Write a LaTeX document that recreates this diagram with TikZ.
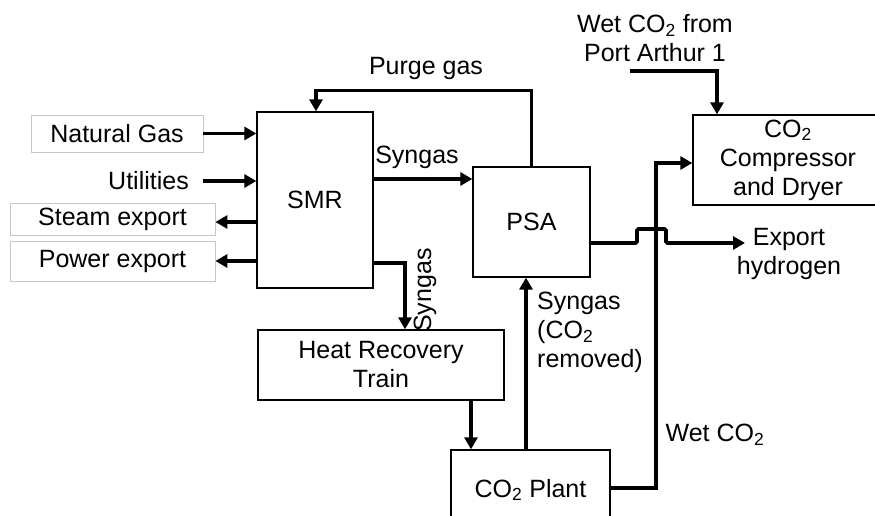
\documentclass[tikz,border=0pt]{standalone}
\usepackage{fontspec}
\setsansfont{Liberation Sans}
\usetikzlibrary{positioning,arrows.meta}

\begin{document}
\begin{tikzpicture}[
  x=1pt, y=-1pt,
  font=\sffamily\fontsize{25}{29}\selectfont,
  unit/.style={rectangle, draw=black, line width=1.3pt, inner sep=0pt, align=center},
  tag/.style={rectangle, draw=black!22, line width=0.8pt, inner sep=0pt},
  txt/.style={inner sep=0pt, align=center},
  flow/.style={-{Triangle[length=12pt,width=13pt]}, line width=3.6pt},
  pipe/.style={line width=3.6pt}
]
\useasboundingbox (0,0) rectangle (875,516);
\clip (0,0) rectangle (875,516);

\node[tag, minimum width=172pt, minimum height=37pt] (ng) at (117,133.5) {Natural Gas};
\node[txt, anchor=east, inner xsep=14pt] (util) at (203,181) {Utilities};
\node[tag, minimum width=205pt, minimum height=32pt] (steam) at (112.5,219) {Steam export};
\node[tag, minimum width=205pt, minimum height=40pt] (power) at (112.5,261) {Power export};

\node[unit, minimum width=116pt, minimum height=176pt] (smr) at (315,200) {SMR};
\node[unit, minimum width=117pt, minimum height=110pt] (psa) at (531.5,222) {PSA};
\node[unit, minimum width=246pt, minimum height=70pt] (hrt) at (381,365) {Heat Recovery\\Train};
\node[unit, minimum width=159pt, minimum height=80pt] (co2p) at (530.5,490) {CO\textsubscript{2} Plant};
\node[unit, minimum width=190pt, minimum height=90pt] (comp) at (788,160) {CO\textsubscript{2}\\Compressor\\and Dryer};

\node[txt] (purge) at (426,68) {Purge gas};
\node[txt] (sg1) at (417,157) {Syngas};
\node[txt, rotate=90] (sg2) at (425,290) {Syngas};
\node[txt, anchor=north west, align=left] (sg3) at (537,292) {Syngas\\(CO\textsubscript{2}\\removed)};
\node[txt] (wet) at (715,435) {Wet CO\textsubscript{2}};
\node[txt] (pa) at (655,38) {Wet CO\textsubscript{2} from\\Port Arthur 1};
\node[txt] (hyd) at (789,254) {Export\\hydrogen};

\coordinate (pastart) at (630,71);
\coordinate (h2end) at (745,243);

\draw[flow] (ng.east) -- (ng.east -| smr.west);
\draw[flow] (util.east) -- (util.east -| smr.west);
\draw[flow] (smr.west |- 0,222) -- (steam.east |- 0,222);
\draw[flow] (smr.west |- power.east) -- (power.east);
\draw[flow] (smr.east |- 0,179) -- (psa.west |- 0,179);
\draw[flow] (psa.north) -- ++(0,-76) -| ([xshift=1pt]smr.north);
\draw[flow] (smr.east |- 0,263) -| (405,0 |- hrt.north);
\draw[flow] (471,0 |- hrt.south) -- (471,0 |- co2p.north);
\draw[flow] (526,0 |- co2p.north) -- (526,0 |- psa.south);
\draw[flow] (co2p.east |- 0,488) -| (656,163) -- (comp.west |- 0,163);
\draw[flow] (pastart) -| (717,0 |- comp.north);
\draw[flow, rounded corners=1.5pt] (psa.east |- 0,243) -- (637,243) -- (637,229)
  -- (666,229) -- (666,243) -- (h2end);
\end{tikzpicture}
\end{document}
